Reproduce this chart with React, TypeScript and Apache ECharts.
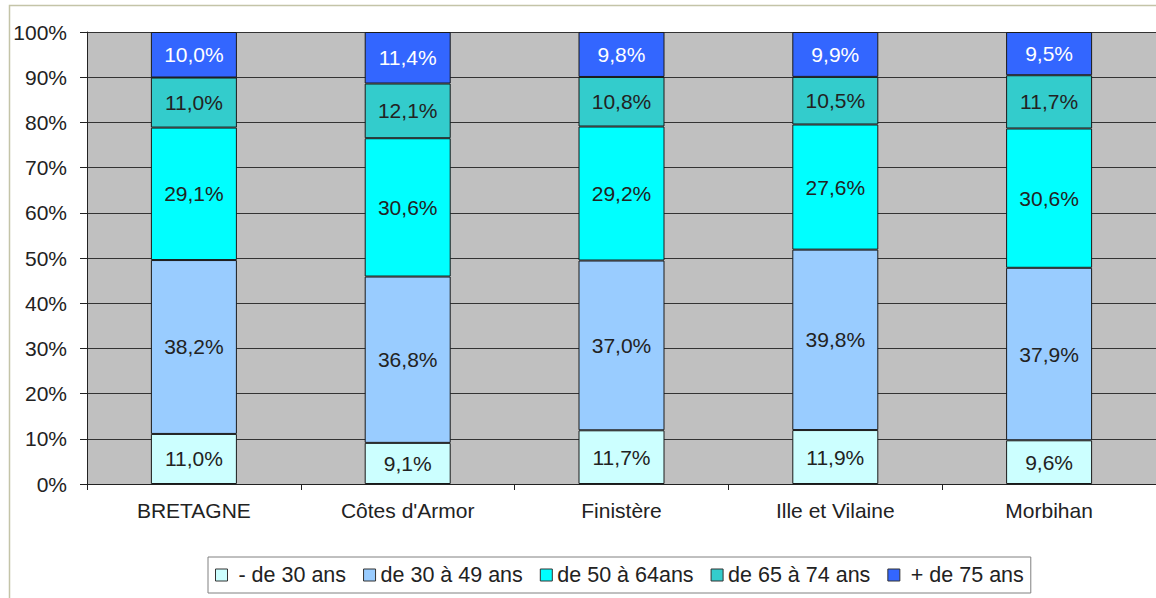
import React, { useEffect, useRef } from "react";
import * as echarts from "echarts";

const categories = ["BRETAGNE", "Côtes d'Armor", "Finistère", "Ille et Vilaine", "Morbihan"];
const seriesNames = [" - de 30 ans", "de 30 à 49 ans", "de 50 à 64ans", "de 65 à 74 ans", " + de 75 ans"];
const under30 = [11.0, 9.1, 11.7, 11.9, 9.6];
const from30to49 = [38.2, 36.8, 37.0, 39.8, 37.9];
const from50to64 = [29.1, 30.6, 29.2, 27.6, 30.6];
const from65to74 = [11.0, 12.1, 10.8, 10.5, 11.7];
const over75 = [10.0, 11.4, 9.8, 9.9, 9.5];
const yTicks = [0, 10, 20, 30, 40, 50, 60, 70, 80, 90, 100];

const colors = ["#CCFFFF", "#99CCFF", "#00FFFF", "#33CCCC", "#3366FF"];
const labelColors = ["#222", "#222", "#222", "#222", "#ffffff"];

export default function App() {
  const ref = useRef<HTMLDivElement>(null);
  useEffect(() => {
    if (!ref.current) return;
    const chart = echarts.init(ref.current, null, { renderer: "svg" });
    const raw = [under30, from30to49, from50to64, from65to74, over75];
    const totals = categories.map((_, i) => raw.reduce((s, arr) => s + arr[i], 0));
    const font = "'Liberation Sans', Arial, sans-serif";
    chart.setOption({
      animation: false,
      backgroundColor: "#ffffff",
      textStyle: { fontFamily: font },
      graphic: [
        {
          type: "rect",
          shape: { x: 9.5, y: 5.5, width: 1200, height: 700 },
          style: { fill: "none", stroke: "#C4C4A8", lineWidth: 1.5 },
          silent: true,
          z: -10,
        },
      ],
      grid: {
        left: 87,
        top: 32,
        width: 1075,
        height: 452,
        show: true,
        backgroundColor: "#C0C0C0",
        borderWidth: 0,
      },
      legend: {
        left: 208,
        top: 557,
        padding: [7, 7, 7, 7],
        itemWidth: 12,
        itemHeight: 12,
        itemGap: 17,
        borderColor: "#808080",
        borderWidth: 1,
        backgroundColor: "#ffffff",
        icon: "rect",
        textStyle: { fontFamily: font, fontSize: 21.5, lineHeight: 22, color: "#222" },
        itemStyle: { borderColor: "#333", borderWidth: 1 },
        data: seriesNames,
      },
      xAxis: {
        type: "category",
        data: categories,
        axisLine: { show: true, lineStyle: { color: "#222", width: 1 } },
        axisTick: { show: true, length: 6, alignWithLabel: false, lineStyle: { color: "#222" } },
        axisLabel: { fontFamily: font, fontSize: 21, color: "#222", margin: 16 },
        splitLine: { show: false },
      },
      yAxis: {
        type: "value",
        min: yTicks[0],
        max: yTicks[yTicks.length - 1],
        interval: 10,
        axisLine: { show: true, lineStyle: { color: "#222", width: 1 } },
        axisTick: { show: true, length: 7, lineStyle: { color: "#222" } },
        axisLabel: { fontFamily: font, fontSize: 21, color: "#222", margin: 20, formatter: "{value}%" },
        splitLine: { show: true, lineStyle: { color: "#333", width: 1.2 } },
      },
      series: raw.map((arr, si) => ({
        name: seriesNames[si],
        type: "bar",
        stack: "total",
        barWidth: 86,
        data: arr.map((v, i) => (v / totals[i]) * 100),
        itemStyle: { color: colors[si], borderColor: "#1a1a1a", borderWidth: 1 },
        label: {
          show: true,
          position: "inside",
          fontFamily: font,
          fontSize: 21,
          color: labelColors[si],
          formatter: (p: any) => arr[p.dataIndex].toFixed(1).replace(".", ",") + "%",
        },
      })),
    });
    return () => chart.dispose();
  }, []);
  return (
    <div
      ref={ref}
      style={{ position: "absolute", left: 0, top: 0, width: 1156, height: 598 }}
    />
  );
}
